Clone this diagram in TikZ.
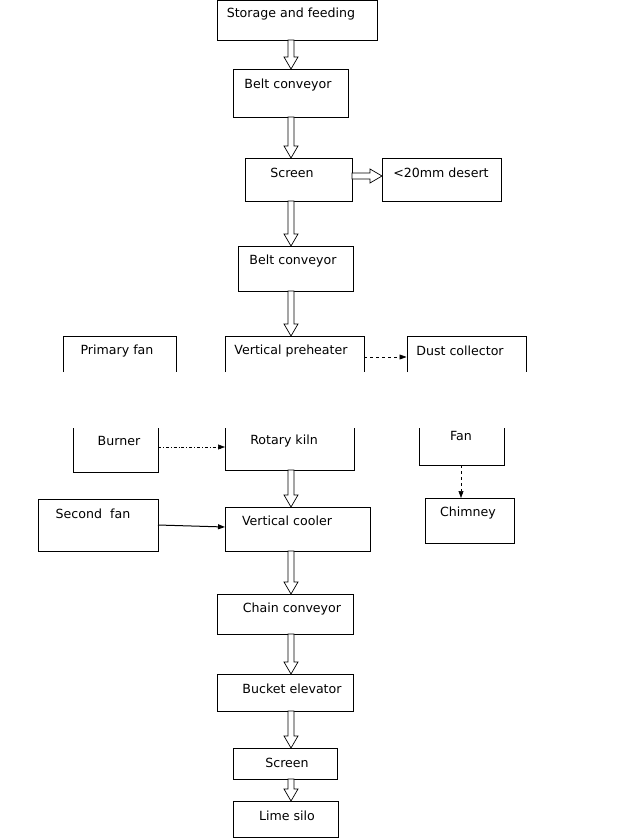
\documentclass[tikz,border=0pt]{standalone}
\usepackage{fontspec}
\setmainfont{DejaVu Sans}
\usetikzlibrary{arrows.meta,calc}
\newcommand{\bx}[8]{%
  \node[boxst,minimum width={(#4-#2)*1pt},minimum height={(#5-#3)*1pt}] (#1) at ({(#2+#4)/2},{(#3+#5)/2}) {};
  \node[txt] (#1t) at (#6,#7) {#8};}
\newcommand{\harr}[3]{%
  \path let \p1=(#1.south), \p2=(#2.north) in
  [hollowst] (#3-3pt,\y1) -- (#3-3pt,\y2+12pt) -- (#3-7pt,\y2+12pt) -- (#3pt,\y2) -- (#3+7pt,\y2+12pt) -- (#3+3pt,\y2+12pt) -- (#3+3pt,\y1) -- cycle;}
\begin{document}
\begin{tikzpicture}[x=1pt,y=-1pt,
  boxst/.style={draw,line width=0.8pt,inner sep=0pt,outer sep=0pt},
  ghost/.style={inner sep=0pt,outer sep=0pt},
  txt/.style={font=\fontsize{12.6}{14}\selectfont,inner sep=0pt},
  hollowst/.style={draw,fill=white,line width=0.7pt},
  tip/.style={-{Triangle[length=7pt,width=5pt]},line width=0.8pt}]
\useasboundingbox (0,0) rectangle (631,840);
\bx{s1}{217}{0}{377}{40}{291}{14}{Storage and feeding}
\bx{b1}{233}{69}{348}{117}{288}{85}{Belt conveyor}
\bx{sc}{245}{158}{352}{201}{292}{173}{Screen}
\bx{ds}{382}{158}{501}{201}{441}{173}{<20mm desert}
\bx{b2}{238}{246}{353}{291}{293}{261}{Belt conveyor}
% split boxes (watermark gap)
\node[ghost,minimum width=139pt,minimum height=134pt] (ph) at (294.5,403) {};
\node[txt] (pht) at (291,351) {Vertical preheater};
\node[txt] (rkt) at (284,441) {Rotary kiln};
\draw[line width=0.8pt] (225,372) |- (364,336) -- (364,372);
\draw[line width=0.8pt] (225,428) |- (354,470) -- (354,428);
\node[ghost,minimum width=113pt,minimum height=136pt] (pf) at (120,404) {};
\node[txt] (pft) at (117,351) {Primary fan};
\node[txt] (bnt) at (119,441) {Burner};
\draw[line width=0.8pt] (63,372) |- (176,336) -- (176,372);
\draw[line width=0.8pt] (73,428) |- (158,472) -- (158,428);
\node[ghost,minimum width=119pt,minimum height=129pt] (dc) at (466,400.5) {};
\node[txt] (dct) at (460,351) {Dust collector};
\node[txt] (fnt) at (461,436) {Fan};
\draw[line width=0.8pt] (407,372) |- (526,336) -- (526,372);
\draw[line width=0.8pt] (419,428) |- (504,465) -- (504,428);
\bx{ch}{425}{498}{514}{543}{468}{513}{Chimney}
\bx{sf}{38}{499}{158}{551}{93}{514}{Second\ \ fan}
\bx{vc}{225}{507}{370}{551}{287}{521}{Vertical cooler}
\bx{cc}{217}{594}{353}{634}{292}{609}{Chain conveyor}
\bx{be}{217}{674}{353}{711}{292}{689}{Bucket elevator}
\bx{s2}{233}{748}{337}{779}{287}{763}{Screen}
\bx{ls}{233}{801}{338}{837}{287}{816}{Lime silo}
% hollow arrows
\harr{s1}{b1}{291}
\harr{b1}{sc}{291}
\harr{sc}{b2}{291}
\harr{b2}{ph}{291}
\harr{ph}{vc}{291}
\harr{vc}{cc}{291}
\harr{cc}{be}{291}
\harr{be}{s2}{291}
\harr{s2}{ls}{291}
\path let \p1=(sc.east), \p2=(ds.west) in
  [hollowst] (\x1,173) -- (\x2-12pt,173) -- (\x2-12pt,169) -- (\x2,176) -- (\x2-12pt,183) -- (\x2-12pt,179) -- (\x1,179) -- cycle;
% other connectors
\draw[tip,dashed,line width=0.6pt] (ph.east |- 0,357) -- (dc.west |- 0,357);
\draw[tip,dash dot,line width=0.6pt] (158,447) -- (ph.west |- 0,447);
\draw[tip,line width=1pt] (sf.east |- 0,525) -- (vc.west |- 0,527);
\draw[tip,dashed,line width=0.6pt] (461,465) -- (ch.north -| 461,0);
\end{tikzpicture}
\end{document}
